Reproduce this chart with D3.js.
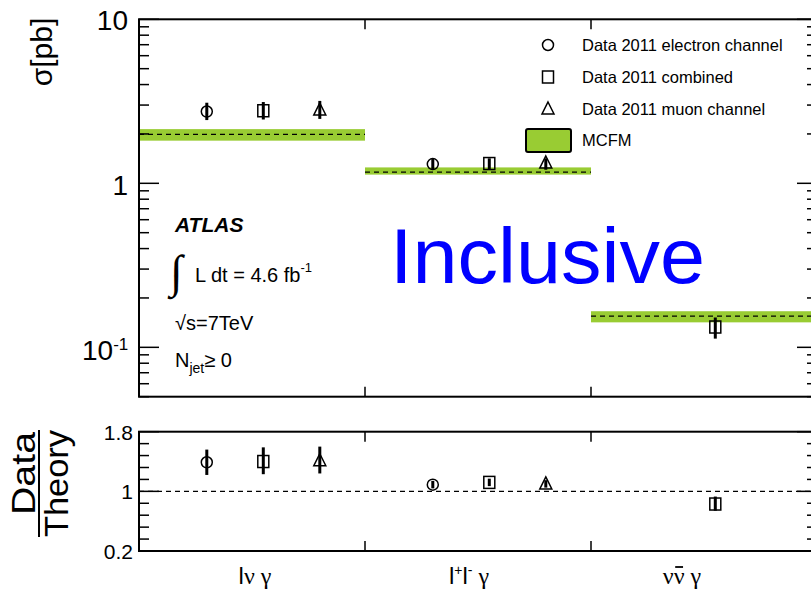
<!DOCTYPE html>
<html>
<head>
<meta charset="utf-8">
<script src="https://cdn.jsdelivr.net/npm/d3@7"></script>
<style>
  html, body { margin: 0; padding: 0; background: #fff; }
  svg { display: block; font-family: "Liberation Sans", Arial, Helvetica, sans-serif; }
</style>
</head>
<body>
<svg id="chart" width="811" height="590"></svg>
<script>
// ---- data ----
const categories = ["lvg", "llg", "nng"];

// MCFM prediction (central, band low, band high) in pb
const mcfm = [1.99, 1.17, 0.155];
const mcfmLo = [1.82, 1.13, 0.142];
const mcfmHi = [2.14, 1.25, 0.166];

// measured cross sections [pb]
const electron = [2.74, 1.31, null];
const electronLo = [2.43, 1.21, null];
const electronHi = [3.10, 1.41, null];
const combined = [2.77, 1.32, 0.133];
const combinedLo = [2.45, 1.21, 0.113];
const combinedHi = [3.13, 1.42, 0.152];
const muon = [2.80, 1.33, null];
const muonLo = [2.47, 1.21, null];
const muonHi = [3.18, 1.42, null];

// data / theory
const electronRatio = [1.39, 1.09, null];
const electronRatioLo = [1.22, 1.04, null];
const electronRatioHi = [1.56, 1.14, null];
const combinedRatio = [1.40, 1.12, 0.83];
const combinedRatioLo = [1.23, 1.07, 0.74];
const combinedRatioHi = [1.59, 1.17, 0.93];
const muonRatio = [1.41, 1.10, null];
const muonRatioLo = [1.24, 1.05, null];
const muonRatioHi = [1.60, 1.15, null];

const legendLabels = ["Data 2011 electron channel", "Data 2011 combined", "Data 2011 muon channel", "MCFM"];
const topTicks = [0.1, 1, 10];
const ratioTicks = [0.2, 1, 1.8];

// ---- layout ----
const L = 139, R = 817;
const topY0 = 19.3, topY1 = 396.7;
const botY0 = 431.7, botY1 = 551;
const green = "#99cc33";

const svg = d3.select("#chart");

const x = d3.scaleBand().domain(categories).range([L, R]).paddingInner(0).paddingOuter(0);
const yTop = d3.scaleLog().domain([0.05, 10]).range([topY1, topY0]);
const yBot = d3.scaleLinear().domain([0.2, 1.8]).range([botY1, botY0]);

const series = [
  {key: "electron", v: electron, lo: electronLo, hi: electronHi, r: electronRatio, rlo: electronRatioLo, rhi: electronRatioHi, pos: 0.30, shape: "circle"},
  {key: "combined", v: combined, lo: combinedLo, hi: combinedHi, r: combinedRatio, rlo: combinedRatioLo, rhi: combinedRatioHi, pos: 0.55, shape: "square"},
  {key: "muon", v: muon, lo: muonLo, hi: muonHi, r: muonRatio, rlo: muonRatioLo, rhi: muonRatioHi, pos: 0.80, shape: "triangle"}
];

function drawMarker(g, shape, cx, cy) {
  if (shape === "circle") {
    g.append("circle").attr("cx", cx).attr("cy", cy).attr("r", 5.5)
      .attr("fill", "none").attr("stroke", "#000").attr("stroke-width", 1.5);
  } else if (shape === "square") {
    g.append("rect").attr("x", cx - 5.5).attr("y", cy - 6).attr("width", 11).attr("height", 12)
      .attr("fill", "none").attr("stroke", "#000").attr("stroke-width", 1.5);
  } else {
    g.append("path").attr("d", `M${cx},${cy - 7}L${cx + 6},${cy + 5}L${cx - 6},${cy + 5}Z`)
      .attr("fill", "none").attr("stroke", "#000").attr("stroke-width", 1.5);
  }
}

// ================= top panel =================
const topG = svg.append("g");

// MCFM bands
categories.forEach((c, i) => {
  topG.append("rect")
    .attr("x", x(c)).attr("width", x.bandwidth())
    .attr("y", yTop(mcfmHi[i])).attr("height", yTop(mcfmLo[i]) - yTop(mcfmHi[i]))
    .attr("fill", green);
  topG.append("line")
    .attr("x1", x(c)).attr("x2", x(c) + x.bandwidth())
    .attr("y1", yTop(mcfm[i])).attr("y2", yTop(mcfm[i]))
    .attr("stroke", "#000").attr("stroke-width", 1.2).attr("stroke-dasharray", "5,4");
});

// data points
series.forEach(s => {
  categories.forEach((c, i) => {
    if (s.v[i] == null) return;
    const cx = x(c) + x.bandwidth() * s.pos;
    drawMarker(topG, s.shape, cx, yTop(s.v[i]));
    topG.append("line").attr("x1", cx).attr("x2", cx)
      .attr("y1", yTop(s.lo[i])).attr("y2", yTop(s.hi[i]))
      .attr("stroke", "#000").attr("stroke-width", 3);
  });
});

// frame
topG.append("rect").attr("x", L).attr("y", topY0).attr("width", R - L).attr("height", topY1 - topY0)
  .attr("fill", "none").attr("stroke", "#000").attr("stroke-width", 2);

// log ticks
const minor = [];
[0.01, 0.1, 1].forEach(d => { for (let k = 2; k <= 9; k++) { const v = d * k; if (v >= 0.05 && v <= 10) minor.push(v); } });
minor.forEach(v => {
  topG.append("line").attr("x1", L).attr("x2", L + 10).attr("y1", yTop(v)).attr("y2", yTop(v)).attr("stroke", "#000").attr("stroke-width", 1.5);
  topG.append("line").attr("x1", R).attr("x2", R - 10).attr("y1", yTop(v)).attr("y2", yTop(v)).attr("stroke", "#000").attr("stroke-width", 1.5);
});
topTicks.forEach(v => {
  topG.append("line").attr("x1", L).attr("x2", L + 20).attr("y1", yTop(v)).attr("y2", yTop(v)).attr("stroke", "#000").attr("stroke-width", 1.5);
  topG.append("line").attr("x1", R).attr("x2", R - 20).attr("y1", yTop(v)).attr("y2", yTop(v)).attr("stroke", "#000").attr("stroke-width", 1.5);
});
// bin separators
categories.slice(1).forEach(c => {
  topG.append("line").attr("x1", x(c)).attr("x2", x(c)).attr("y1", topY0).attr("y2", topY0 + 10).attr("stroke", "#000").attr("stroke-width", 1.5);
  topG.append("line").attr("x1", x(c)).attr("x2", x(c)).attr("y1", topY1).attr("y2", topY1 - 10).attr("stroke", "#000").attr("stroke-width", 1.5);
});

// tick labels
topG.append("text").attr("x", 128).attr("y", yTop(10) + 11).attr("text-anchor", "end").attr("font-size", 28).text("10");
topG.append("text").attr("x", 128).attr("y", yTop(1) + 12).attr("text-anchor", "end").attr("font-size", 28).text("1");
const tm = topG.append("text").attr("x", 82).attr("y", yTop(0.1) + 13).attr("font-size", 28);
tm.append("tspan").text("10");
tm.append("tspan").attr("dy", -10).attr("font-size", 17).text("-1");

// y label
svg.append("text").attr("transform", "translate(52,52) rotate(-90)")
  .attr("text-anchor", "middle").attr("font-size", 30).text("σ[pb]");

// legend
const lg = svg.append("g");
const legY = [45, 77, 109, 140];
series.forEach((s, i) => drawMarker(lg, s.shape, 548, legY[i]));
lg.append("rect").attr("x", 526).attr("y", 129).attr("width", 45).attr("height", 23).attr("rx", 2)
  .attr("fill", green).attr("stroke", "#000").attr("stroke-width", 2);
legendLabels.forEach((t, i) => {
  lg.append("text").attr("x", 582).attr("y", legY[i] + 6).attr("font-size", 16.5).text(t);
});

// ATLAS annotations
const ann = svg.append("g");
ann.append("text").attr("x", 175).attr("y", 232).attr("font-size", 21)
  .attr("font-weight", "bold").attr("font-style", "italic").text("ATLAS");
ann.append("text").attr("x", 170).attr("y", 287).attr("font-size", 46)
  .attr("font-family", "'Liberation Serif', 'DejaVu Serif', serif").text("∫");
const lum = ann.append("text").attr("x", 195).attr("y", 282).attr("font-size", 20);
lum.append("tspan").text("L dt = 4.6 fb");
lum.append("tspan").attr("dy", -10).attr("font-size", 13).text("-1");
ann.append("text").attr("x", 175).attr("y", 330).attr("font-size", 20).text("√s=7TeV");
const nj = ann.append("text").attr("x", 175).attr("y", 367).attr("font-size", 20);
nj.append("tspan").text("N");
nj.append("tspan").attr("dy", 6).attr("font-size", 14).text("jet");
nj.append("tspan").attr("dy", -6).text("≥ 0");

// big label
svg.append("text").attr("x", 390).attr("y", 283).attr("font-size", 78)
  .attr("textLength", 315).attr("lengthAdjust", "spacingAndGlyphs")
  .attr("fill", "#0000ff").text("Inclusive");

// ================= bottom panel =================
const bot = svg.append("g");
bot.append("line").attr("x1", L).attr("x2", R).attr("y1", yBot(1)).attr("y2", yBot(1))
  .attr("stroke", "#000").attr("stroke-width", 1.2).attr("stroke-dasharray", "5,4");

series.forEach(s => {
  categories.forEach((c, i) => {
    if (s.r[i] == null) return;
    const cx = x(c) + x.bandwidth() * s.pos;
    drawMarker(bot, s.shape, cx, yBot(s.r[i]));
    bot.append("line").attr("x1", cx).attr("x2", cx)
      .attr("y1", yBot(s.rlo[i])).attr("y2", yBot(s.rhi[i]))
      .attr("stroke", "#000").attr("stroke-width", 3);
  });
});

bot.append("rect").attr("x", L).attr("y", botY0).attr("width", R - L).attr("height", botY1 - botY0)
  .attr("fill", "none").attr("stroke", "#000").attr("stroke-width", 2);

d3.range(0, 11).map(k => 0.2 + 0.16 * k).forEach(v => {
  const major = ratioTicks.some(t => Math.abs(t - v) < 1e-6);
  const len = major ? 20 : 10;
  bot.append("line").attr("x1", L).attr("x2", L + len).attr("y1", yBot(v)).attr("y2", yBot(v)).attr("stroke", "#000").attr("stroke-width", 1.5);
  bot.append("line").attr("x1", R).attr("x2", R - len).attr("y1", yBot(v)).attr("y2", yBot(v)).attr("stroke", "#000").attr("stroke-width", 1.5);
});
categories.slice(1).forEach(c => {
  bot.append("line").attr("x1", x(c)).attr("x2", x(c)).attr("y1", botY0).attr("y2", botY0 + 10).attr("stroke", "#000").attr("stroke-width", 1.5);
  bot.append("line").attr("x1", x(c)).attr("x2", x(c)).attr("y1", botY1).attr("y2", botY1 - 10).attr("stroke", "#000").attr("stroke-width", 1.5);
});
ratioTicks.forEach(v => {
  bot.append("text").attr("x", 133).attr("y", yBot(v) + 8).attr("text-anchor", "end")
    .attr("font-size", 21).text(d3.format("")(v));
});

// ratio y label
svg.append("text").attr("transform", "translate(35,473.5) rotate(-90)")
  .attr("text-anchor", "middle").attr("font-size", 33)
  .attr("textLength", 83).attr("lengthAdjust", "spacingAndGlyphs").text("Data");
svg.append("line").attr("x1", 39).attr("x2", 39).attr("y1", 430).attr("y2", 537)
  .attr("stroke", "#000").attr("stroke-width", 2);
svg.append("text").attr("transform", "translate(68,483.5) rotate(-90)")
  .attr("text-anchor", "middle").attr("font-size", 33)
  .attr("textLength", 107).attr("lengthAdjust", "spacingAndGlyphs").text("Theory");

// x category labels
const serif = "'Liberation Serif', 'DejaVu Serif', serif";
const labelShift = [3, -9, -22];
const labelY = 584;
const xl = svg.append("g").attr("font-size", 24);
const l0 = xl.append("text").attr("x", x(categories[0]) + x.bandwidth() / 2 + labelShift[0]).attr("y", labelY).attr("text-anchor", "middle");
l0.append("tspan").text("l");
l0.append("tspan").attr("font-family", serif).text("ν γ");
const l1 = xl.append("text").attr("x", x(categories[1]) + x.bandwidth() / 2 + labelShift[1]).attr("y", labelY).attr("text-anchor", "middle");
l1.append("tspan").text("l");
l1.append("tspan").attr("dy", -9).attr("font-size", 14).text("+");
l1.append("tspan").attr("dy", 9).text("l");
l1.append("tspan").attr("dy", -9).attr("font-size", 14).text("-");
l1.append("tspan").attr("dy", 9).attr("font-family", serif).text(" γ");
const l2 = xl.append("text").attr("x", x(categories[2]) + x.bandwidth() / 2 + labelShift[2]).attr("y", labelY).attr("text-anchor", "middle")
  .attr("font-family", serif).text("νν γ");
// bar over the second nu
const ext = l2.node().getExtentOfChar(1);
xl.append("line").attr("x1", ext.x + 1.5).attr("x2", ext.x + ext.width - 1.5)
  .attr("y1", labelY - 17).attr("y2", labelY - 17).attr("stroke", "#000").attr("stroke-width", 1.8);
</script>
</body>
</html>
